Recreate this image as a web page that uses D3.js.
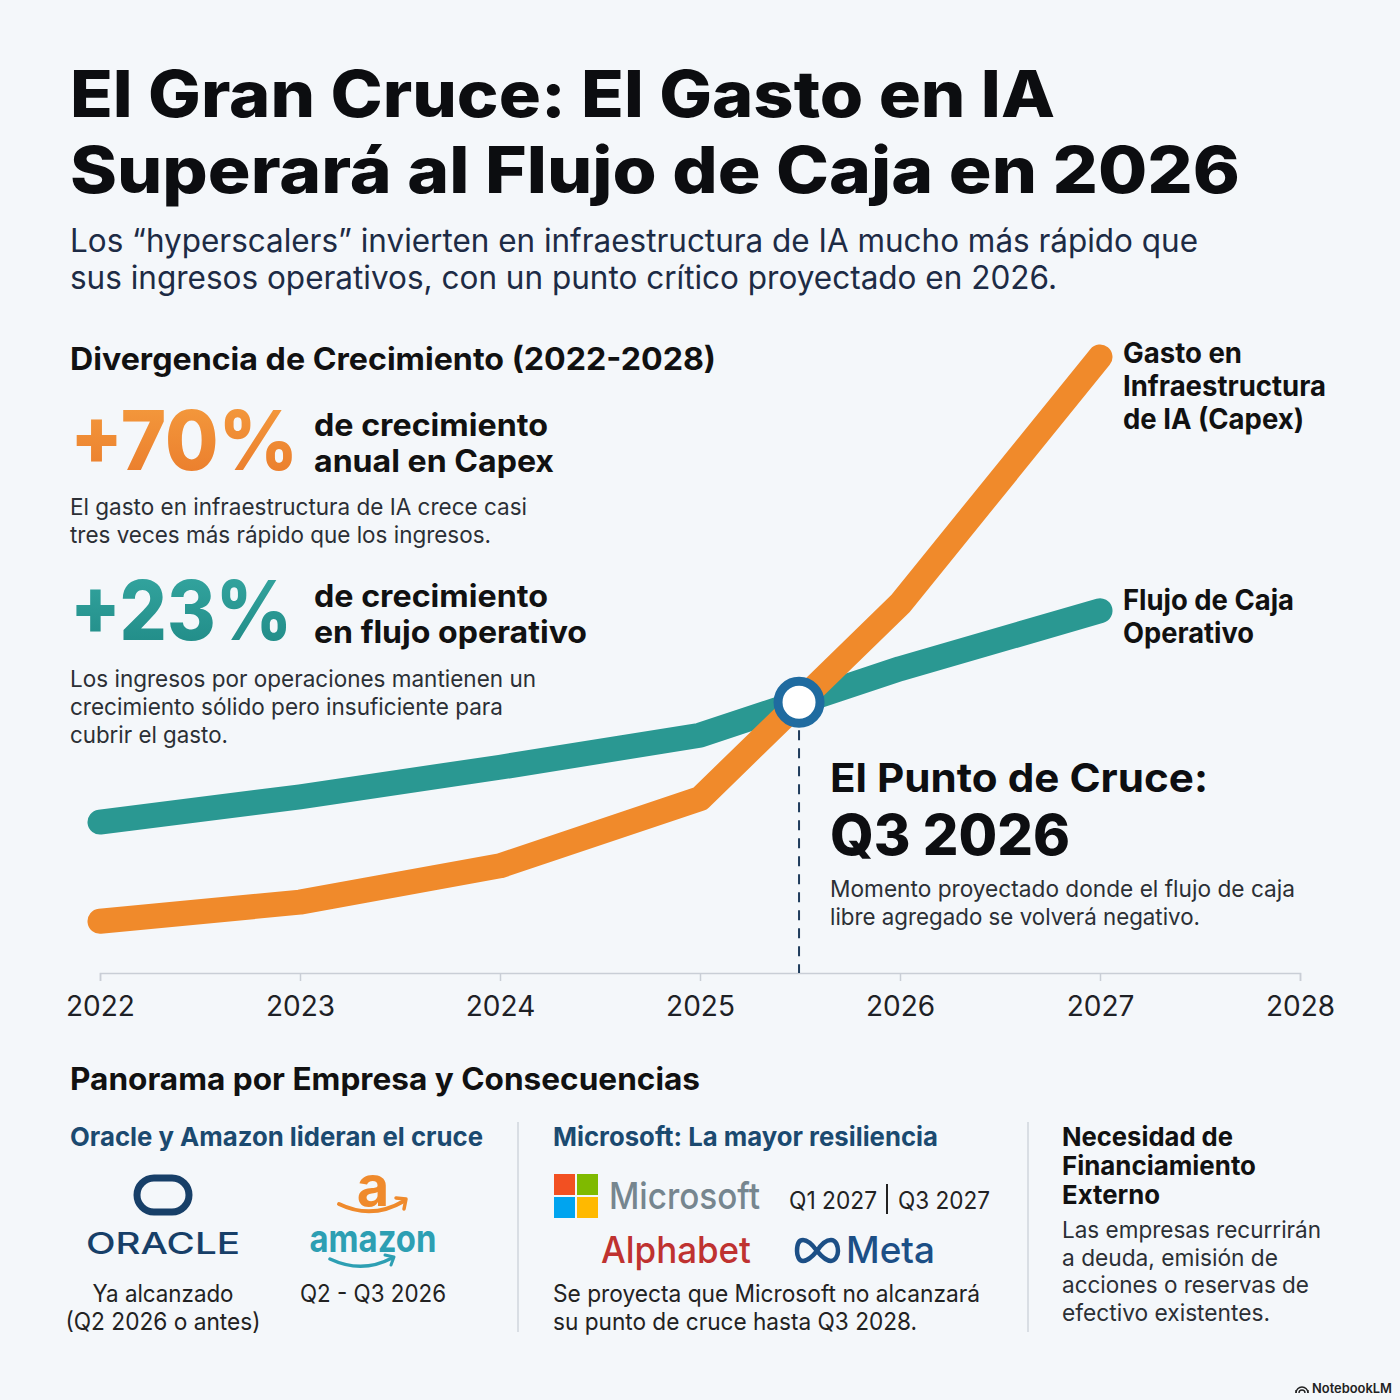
<!DOCTYPE html>
<html lang="es">
<head>
<meta charset="utf-8">
<title>El Gran Cruce</title>
<script src="https://cdn.jsdelivr.net/npm/d3@7"></script>
<style>
  html, body { margin: 0; padding: 0; background: #f4f7fa; }
  svg { display: block; }
</style>
</head>
<body>
<div id="chart"></div>
<script>
// Series (index, 0 = baseline, 100 = capex peak)
const years = [2022, 2023, 2024, 2025, 2026, 2027, 2028];
const seriesYears = [2022, 2023, 2024, 2025, 2026, 2027];
const capex = [8.4, 11.5, 17.4, 28.3, 59.9, 100];
const cashFlow = [24.5, 28.6, 33.4, 38.6, 49.4, 58.8];

const capexLabel = ["Gasto en", "Infraestructura", "de IA (Capex)"];
const cashLabel = ["Flujo de Caja", "Operativo"];

(function () {
  const W = 1400, H = 1400;
  const HEAD = "Inter, 'DejaVu Sans', sans-serif";
  const BODY = "Inter, Roboto, 'Noto Sans', sans-serif";
  const ORANGE = "#f08a2b", TEAL = "#2a9892", NAVY = "#1b4a70";

  const svg = d3.select("#chart").append("svg")
    .attr("width", W).attr("height", H)
    .attr("viewBox", `0 0 ${W} ${H}`);

  svg.append("rect").attr("width", W).attr("height", H).attr("fill", "#f4f7fa");

  const defs = svg.append("defs");
  const gradO = defs.append("linearGradient").attr("id", "gO").attr("x1", 0).attr("y1", 0).attr("x2", 0).attr("y2", 1);
  gradO.append("stop").attr("offset", "0%").attr("stop-color", "#f59d3f");
  gradO.append("stop").attr("offset", "100%").attr("stop-color", "#e9792a");
  const gradT = defs.append("linearGradient").attr("id", "gT").attr("x1", 0).attr("y1", 0).attr("x2", 0).attr("y2", 1);
  gradT.append("stop").attr("offset", "0%").attr("stop-color", "#36a8a2");
  gradT.append("stop").attr("offset", "100%").attr("stop-color", "#1e8884");

  // text helper: w = target width (squeezes the fallback font to the reference width)
  function label(parent, x, y, str, o) {
    const t = parent.append("text")
      .attr("x", x).attr("y", y)
      .attr("font-family", o.font || BODY)
      .attr("font-size", o.size)
      .attr("font-weight", o.weight || 400)
      .attr("fill", o.fill || "#252a30")
      .attr("text-anchor", o.anchor || "start")
      .text(str);
    if (o.w) t.attr("textLength", o.w).attr("lengthAdjust", "spacingAndGlyphs");
    return t;
  }

  // --- Header ---------------------------------------------------------------
  label(svg, 70, 117, "El Gran Cruce: El Gasto en IA", { font: HEAD, size: 64, weight: 800, fill: "#0c0d10", w: 985 });
  label(svg, 70, 193, "Superará al Flujo de Caja en 2026", { font: HEAD, size: 64, weight: 800, fill: "#0c0d10", w: 1170 });
  label(svg, 70, 252, "Los “hyperscalers” invierten en infraestructura de IA mucho más rápido que", { size: 32, fill: "#1d2b45", w: 1128 });
  label(svg, 70, 289, "sus ingresos operativos, con un punto crítico proyectado en 2026.", { size: 32, fill: "#1d2b45", w: 987 });

  // --- Left stats -------------------------------------------------------------
  label(svg, 70, 370, "Divergencia de Crecimiento (2022-2028)", { size: 31, weight: 700, fill: "#111", w: 646 });

  label(svg, 70, 470, "+70%", { font: HEAD, size: 82, weight: 800, fill: "url(#gO)", w: 228 });
  label(svg, 314, 436, "de crecimiento", { size: 31, weight: 700, fill: "#111", w: 234 });
  label(svg, 314, 472, "anual en Capex", { size: 31, weight: 700, fill: "#111", w: 240 });
  label(svg, 70, 515, "El gasto en infraestructura de IA crece casi", { size: 23, fill: "#2b2f35", w: 457 });
  label(svg, 70, 543, "tres veces más rápido que los ingresos.", { size: 23, fill: "#2b2f35", w: 421 });

  label(svg, 70, 640, "+23%", { font: HEAD, size: 82, weight: 800, fill: "url(#gT)", w: 222 });
  label(svg, 314, 607, "de crecimiento", { size: 31, weight: 700, fill: "#111", w: 234 });
  label(svg, 314, 643, "en flujo operativo", { size: 31, weight: 700, fill: "#111", w: 273 });
  label(svg, 70, 687, "Los ingresos por operaciones mantienen un", { size: 23, fill: "#2b2f35", w: 466 });
  label(svg, 70, 715, "crecimiento sólido pero insuficiente para", { size: 23, fill: "#2b2f35", w: 433 });
  label(svg, 70, 743, "cubrir el gasto.", { size: 23, fill: "#2b2f35", w: 158 });

  // --- Chart ------------------------------------------------------------------
  const x = d3.scaleLinear().domain([2022, 2028]).range([100, 1300]);
  const y = d3.scaleLinear().domain([0, 100]).range([973, 357]);

  const axis = svg.append("g")
    .attr("transform", `translate(0,${y(0)})`)
    .call(d3.axisBottom(x).tickValues(years).tickFormat(d3.format("d")).tickSize(8).tickPadding(15));
  axis.select(".domain").attr("stroke", "#c9ced6").attr("stroke-width", 1.5);
  axis.selectAll(".tick line").attr("stroke", "#c9ced6").attr("stroke-width", 1.5);
  axis.selectAll(".tick text").attr("font-family", BODY).attr("font-size", 28).attr("fill", "#1e2126");

  const line = d3.line().x(d => x(d[0])).y(d => y(d[1])).curve(d3.curveLinear);
  const cashPts = seriesYears.map((yr, i) => [yr, cashFlow[i]]);
  const capexPts = seriesYears.map((yr, i) => [yr, capex[i]]);

  const marks = svg.append("g");
  const dash = marks.append("line");

  const cashPath = marks.append("path").datum(cashPts)
    .attr("d", line).attr("fill", "none")
    .attr("stroke", TEAL).attr("stroke-width", 25)
    .attr("stroke-linecap", "round").attr("stroke-linejoin", "round");

  const capexPath = marks.append("path").datum(capexPts)
    .attr("d", line).attr("fill", "none")
    .attr("stroke", ORANGE).attr("stroke-width", 25)
    .attr("stroke-linecap", "round").attr("stroke-linejoin", "round");

  // y of a drawn curve at pixel x (binary search along the path length)
  function yAt(node, px) {
    let lo = 0, hi = node.getTotalLength();
    for (let k = 0; k < 40; k++) {
      const mid = (lo + hi) / 2;
      if (node.getPointAtLength(mid).x < px) lo = mid; else hi = mid;
    }
    return node.getPointAtLength(lo).y;
  }
  // crossing: where capex rises above cash flow
  let a = x(seriesYears[0]), b = x(seriesYears[seriesYears.length - 1]);
  const diff = px => yAt(capexPath.node(), px) - yAt(cashPath.node(), px);
  for (let k = 0; k < 40; k++) {
    const m = (a + b) / 2;
    if (diff(m) > 0) a = m; else b = m;
  }
  const cx = (a + b) / 2, cy = yAt(cashPath.node(), cx);

  dash.attr("x1", cx).attr("x2", cx)
    .attr("y1", cy + 28).attr("y2", y(0))
    .attr("stroke", "#1f3c5c").attr("stroke-width", 2)
    .attr("stroke-dasharray", "10 8");

  marks.append("circle")
    .attr("cx", cx).attr("cy", cy).attr("r", 21)
    .attr("fill", "#ffffff").attr("stroke", "#1f6ba0").attr("stroke-width", 9);

  // series labels at the line ends
  capexLabel.forEach((s, i) => label(svg, 1123, 363 + i * 33, s, { size: 28, weight: 700, fill: "#111", w: [119, 203, 181][i] }));
  cashLabel.forEach((s, i) => label(svg, 1123, 610 + i * 33, s, { size: 28, weight: 700, fill: "#111", w: [171, 131][i] }));

  // crossing annotation
  label(svg, 830, 792, "El Punto de Cruce:", { size: 40, weight: 700, fill: "#0d0e11", w: 378 });
  label(svg, 830, 855, "Q3 2026", { font: HEAD, size: 56, weight: 800, fill: "#0d0e11", w: 240 });
  label(svg, 830, 897, "Momento proyectado donde el flujo de caja", { size: 23, fill: "#2b2f35", w: 465 });
  label(svg, 830, 925, "libre agregado se volverá negativo.", { size: 23, fill: "#2b2f35", w: 370 });

  // --- Bottom panel -------------------------------------------------------------
  label(svg, 70, 1090, "Panorama por Empresa y Consecuencias", { size: 31, weight: 700, fill: "#111", w: 630 });

  [518, 1028].forEach(xx => svg.append("line")
    .attr("x1", xx).attr("x2", xx).attr("y1", 1122).attr("y2", 1332)
    .attr("stroke", "#d9dee4").attr("stroke-width", 2));

  // column 1: Oracle + Amazon
  label(svg, 70, 1146, "Oracle y Amazon lideran el cruce", { size: 26, weight: 700, fill: NAVY, w: 413 });

  svg.append("rect")
    .attr("x", 137).attr("y", 1178).attr("width", 52).attr("height", 34).attr("rx", 17)
    .attr("fill", "none").attr("stroke", "#173f68").attr("stroke-width", 7);
  label(svg, 163, 1254, "ORACLE", { font: HEAD, size: 30, weight: 500, fill: "#173f68", anchor: "middle", w: 154 });

  label(svg, 373, 1206, "a", { font: HEAD, size: 56, weight: 700, fill: "#ef8a2c", anchor: "middle" });
  svg.append("path")
    .attr("d", "M339,1204 Q372,1220 404,1201")
    .attr("fill", "none").attr("stroke", "#ef8a2c").attr("stroke-width", 4).attr("stroke-linecap", "round");
  svg.append("path")
    .attr("d", "M396,1198 L406,1199 L404,1209")
    .attr("fill", "none").attr("stroke", "#ef8a2c").attr("stroke-width", 3.5).attr("stroke-linecap", "round").attr("stroke-linejoin", "round");
  label(svg, 373, 1252, "amazon", { font: HEAD, size: 38, weight: 700, fill: "#2d9fb3", anchor: "middle", w: 127 });
  svg.append("path")
    .attr("d", "M330,1259 Q362,1274 392,1258")
    .attr("fill", "none").attr("stroke", "#2d9fb3").attr("stroke-width", 3.5).attr("stroke-linecap", "round");
  svg.append("path")
    .attr("d", "M385,1255 L394,1257 L391,1265")
    .attr("fill", "none").attr("stroke", "#2d9fb3").attr("stroke-width", 3).attr("stroke-linecap", "round").attr("stroke-linejoin", "round");

  label(svg, 163, 1302, "Ya alcanzado", { size: 24, fill: "#222", anchor: "middle", w: 141 });
  label(svg, 163, 1330, "(Q2 2026 o antes)", { size: 24, fill: "#222", anchor: "middle", w: 195 });
  label(svg, 373, 1302, "Q2 - Q3 2026", { size: 24, fill: "#222", anchor: "middle", w: 146 });

  // column 2: Microsoft, Alphabet, Meta
  label(svg, 553, 1146, "Microsoft: La mayor resiliencia", { size: 26, weight: 700, fill: NAVY, w: 385 });

  const msColors = ["#f25022", "#7fba00", "#00a4ef", "#ffb900"];
  msColors.forEach((c, i) => svg.append("rect")
    .attr("x", 554 + (i % 2) * 23).attr("y", 1174 + Math.floor(i / 2) * 23)
    .attr("width", 21).attr("height", 21).attr("fill", c));
  label(svg, 609, 1209, "Microsoft", { font: HEAD, size: 37, weight: 500, fill: "#76868f", w: 151 });
  label(svg, 789, 1209, "Q1 2027", { size: 24, fill: "#222", w: 88 });
  svg.append("line").attr("x1", 887).attr("x2", 887).attr("y1", 1184).attr("y2", 1214)
    .attr("stroke", "#222").attr("stroke-width", 2);
  label(svg, 898, 1209, "Q3 2027", { size: 24, fill: "#222", w: 92 });

  label(svg, 601, 1263, "Alphabet", { font: HEAD, size: 37, weight: 500, fill: "#bf3230", w: 150 });
  svg.append("path")
    .attr("d", "M817,1251 C822,1243 826,1240 831,1240 C836,1240 838,1246 838,1251 C838,1256 835,1261 831,1261 C826,1261 822,1257 817,1251 C812,1244 808,1240 803,1240 C798,1240 797,1246 797,1251 C797,1256 799,1261 803,1261 C808,1261 812,1257 817,1251 Z")
    .attr("fill", "none").attr("stroke", "#1c4f86").attr("stroke-width", 4.5);
  label(svg, 846, 1263, "Meta", { font: HEAD, size: 37, weight: 500, fill: "#1c4f86", w: 89 });

  label(svg, 553, 1302, "Se proyecta que Microsoft no alcanzará", { size: 24, fill: "#222", w: 427 });
  label(svg, 553, 1330, "su punto de cruce hasta Q3 2028.", { size: 24, fill: "#222", w: 364 });

  // column 3
  [["Necesidad de", 171], ["Financiamiento", 194], ["Externo", 98]].forEach((d, i) =>
    label(svg, 1062, 1146 + i * 29, d[0], { size: 26, weight: 700, fill: "#111", w: d[1] }));
  [["Las empresas recurrirán", 259], ["a deuda, emisión de", 216], ["acciones o reservas de", 247], ["efectivo existentes.", 208]]
    .forEach((d, i) => label(svg, 1062, 1238 + i * 27.5, d[0], { size: 23, fill: "#2b2f35", w: d[1] }));

  // watermark
  const wm = svg.append("g").attr("transform", "translate(1302,1389)").attr("fill", "none").attr("stroke", "#222").attr("stroke-width", 1.4);
  wm.append("path").attr("d", "M-6,4 A6,6 0 0 1 6,4");
  wm.append("path").attr("d", "M-3,4 A3,3 0 0 1 3,4");
  wm.append("path").attr("d", "M-6,4 L-6,1 M6,4 L6,1");
  label(svg, 1312, 1393, "NotebookLM", { size: 13, weight: 600, fill: "#222", w: 80 });
})();
</script>
</body>
</html>
